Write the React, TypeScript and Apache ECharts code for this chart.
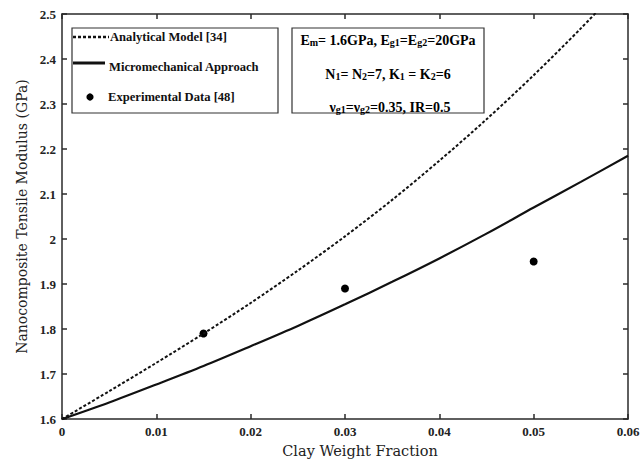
import React, { useEffect, useRef } from "react";
import * as echarts from "echarts";

const clayFraction = [0, 0.005, 0.01, 0.015, 0.02, 0.025, 0.03, 0.035, 0.04, 0.045, 0.05, 0.055, 0.06];
const analyticalModel = [1.6, 1.662, 1.725, 1.79, 1.858, 1.93, 2.006, 2.087, 2.174, 2.266, 2.364, 2.468, 2.578];
const micromechanical = [1.6, 1.637, 1.677, 1.718, 1.762, 1.807, 1.855, 1.905, 1.957, 2.012, 2.07, 2.127, 2.185];
const expFraction = [0.015, 0.03, 0.05];
const expModulus = [1.79, 1.89, 1.95];

const legendNames = ["Analytical Model [34]", "Micromechanical Approach", "Experimental Data [48]"];
const xTitle = "Clay Weight Fraction";
const yTitle = "Nanocomposite Tensile Modulus (GPa)";

const serif = "'Liberation Serif', 'Times New Roman', serif";
const titleFont = "'DejaVu Serif', serif";
const axisColor = "#2a2a2a";

export default function App() {
  const ref = useRef<HTMLDivElement>(null);
  useEffect(() => {
    if (!ref.current) return;
    const chart = echarts.init(ref.current, null, { renderer: "svg" });
    const pair = (xs: number[], ys: number[]) => xs.map((x, i) => [x, ys[i]]);
    const fmtX = (v: number) => (v === 0 ? "0" : String(+v.toFixed(2)));
    const fmtY = (v: number) => String(+v.toFixed(2));
    const rich = {
      b: { fontFamily: serif, fontWeight: "bold", fontSize: 14, lineHeight: 18, verticalAlign: "bottom", color: "#111" },
      s: { fontFamily: serif, fontWeight: "bold", fontSize: 10, lineHeight: 11, padding: [7, 0, 0, 0], verticalAlign: "bottom", color: "#111" },
    };
    const legendText = { fontFamily: serif, fontWeight: "bold", fontSize: 12.6, fill: "#111" };
    chart.setOption({
      animation: false,
      backgroundColor: "#fff",
      grid: { left: 62, right: 15, top: 14, bottom: 42, containLabel: false },
      xAxis: [
        {
          type: "value", min: 0, max: 0.06, interval: 0.01, position: "bottom",
          name: xTitle, nameLocation: "middle", nameGap: 22,
          nameTextStyle: { fontFamily: titleFont, fontSize: 14.5, color: "#222", padding: [0, 0, 0, 30] },
          axisLine: { show: true, onZero: false, lineStyle: { color: axisColor, width: 1.5 } },
          axisTick: { show: true, inside: true, length: 5, lineStyle: { color: axisColor, width: 1.5 } },
          axisLabel: { formatter: fmtX, fontFamily: serif, fontWeight: "bold", fontSize: 13, color: "#222", margin: 6 },
          splitLine: { show: false },
        },
        {
          type: "value", min: 0, max: 0.06, interval: 0.01, position: "top",
          axisLine: { show: true, onZero: false, lineStyle: { color: axisColor, width: 1.5 } },
          axisTick: { show: true, inside: true, length: 5, lineStyle: { color: axisColor, width: 1.5 } },
          axisLabel: { show: false },
          splitLine: { show: false },
        },
      ],
      yAxis: [
        {
          type: "value", min: 1.6, max: 2.5, interval: 0.1, position: "left",
          name: yTitle, nameLocation: "middle", nameGap: 31, nameRotate: 90,
          nameTextStyle: { fontFamily: titleFont, fontSize: 14, color: "#222" },
          axisLine: { show: true, onZero: false, lineStyle: { color: axisColor, width: 1.5 } },
          axisTick: { show: true, inside: true, length: 5, lineStyle: { color: axisColor, width: 1.5 } },
          axisLabel: { formatter: fmtY, fontFamily: serif, fontWeight: "bold", fontSize: 13, color: "#222", margin: 6 },
          splitLine: { show: false },
        },
        {
          type: "value", min: 1.6, max: 2.5, interval: 0.1, position: "right",
          axisLine: { show: true, onZero: false, lineStyle: { color: axisColor, width: 1.5 } },
          axisTick: { show: true, inside: true, length: 5, lineStyle: { color: axisColor, width: 1.5 } },
          axisLabel: { show: false },
          splitLine: { show: false },
        },
      ],
      series: [
        {
          name: legendNames[0], type: "line", xAxisIndex: 0, yAxisIndex: 0,
          data: pair(clayFraction, analyticalModel), smooth: 0.3, showSymbol: false, symbol: "none", clip: true,
          lineStyle: { color: "#111", width: 2, type: [3, 2] },
        },
        {
          name: legendNames[1], type: "line", xAxisIndex: 0, yAxisIndex: 0,
          data: pair(clayFraction, micromechanical), smooth: 0.3, showSymbol: false, symbol: "none", clip: true,
          lineStyle: { color: "#111", width: 2.2 },
        },
        {
          name: legendNames[2], type: "scatter", xAxisIndex: 0, yAxisIndex: 0,
          data: pair(expFraction, expModulus), symbol: "circle", symbolSize: 8,
          itemStyle: { color: "#000", opacity: 1 },
        },
      ],
      graphic: [
        { type: "rect", shape: { x: 72, y: 28, width: 206, height: 85 }, style: { fill: "#fff", stroke: "#333", lineWidth: 1.2 }, z: 10 },
        { type: "line", shape: { x1: 73, y1: 37, x2: 109, y2: 37 }, style: { stroke: "#111", lineWidth: 2.5, lineDash: [3, 2] }, z: 11 },
        { type: "text", x: 110, y: 37, style: { ...legendText, text: legendNames[0], verticalAlign: "middle" }, z: 11 },
        { type: "line", shape: { x1: 73, y1: 63, x2: 105, y2: 63 }, style: { stroke: "#111", lineWidth: 3 }, z: 11 },
        { type: "text", x: 109, y: 67, style: { ...legendText, text: legendNames[1], verticalAlign: "middle" }, z: 11 },
        { type: "circle", shape: { cx: 90, cy: 97, r: 3.6 }, style: { fill: "#000" }, z: 11 },
        { type: "text", x: 108, y: 97, style: { ...legendText, text: legendNames[2], verticalAlign: "middle" }, z: 11 },

        { type: "rect", shape: { x: 292, y: 28, width: 192, height: 85 }, style: { fill: "#fff", stroke: "#333", lineWidth: 1.2 }, z: 10 },
        {
          type: "text", x: 388, y: 38, z: 11,
          style: { text: "{b|E}{s|m}{b|= 1.6GPa, E}{s|g1}{b|=E}{s|g2}{b|=20GPa}", rich, align: "center", verticalAlign: "middle" },
        },
        {
          type: "text", x: 388, y: 72, z: 11,
          style: { text: "{b|N}{s|1}{b|= N}{s|2}{b|=7, K}{s|1}{b| = K}{s|2}{b|=6}", rich, align: "center", verticalAlign: "middle" },
        },
        {
          type: "text", x: 390, y: 105, z: 11,
          style: { text: "{b|\u03bd}{s|g1}{b|=\u03bd}{s|g2}{b|=0.35, IR=0.5}", rich, align: "center", verticalAlign: "middle" },
        },
      ],
    });
    return () => chart.dispose();
  }, []);
  return <div ref={ref} style={{ position: "fixed", left: 0, top: 0, width: 643, height: 463, background: "#fff" }} />;
}
